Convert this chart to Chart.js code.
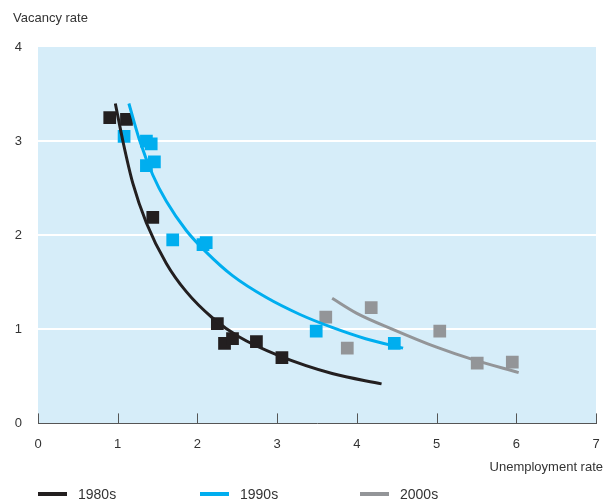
<!DOCTYPE html>
<html>
<head>
<meta charset="utf-8">
<script src="https://cdn.jsdelivr.net/npm/chart.js@4.4.1/dist/chart.umd.min.js"></script>
<style>
  html, body { margin: 0; padding: 0; background: #fff; }
  #wrap { width: 605px; height: 502px; position: relative; }
</style>
</head>
<body>
<div id="wrap"><canvas id="curveChart"></canvas></div>
<script>
// observed points, unemployment rate (x) vs vacancy rate (y)
const x1980s = [0.9, 1.11, 1.44, 2.25, 2.34, 2.44, 2.74, 3.06];
const y1980s = [3.25, 3.23, 2.19, 1.06, 0.85, 0.90, 0.87, 0.70];
const x1990s = [1.08, 1.36, 1.42, 1.36, 1.46, 1.69, 2.07, 2.11, 3.49, 4.47];
const y1990s = [3.05, 3.0, 2.97, 2.74, 2.78, 1.95, 1.90, 1.92, 0.98, 0.85];
const x2000s = [3.61, 3.88, 4.18, 5.04, 5.51, 5.95];
const y2000s = [1.13, 0.80, 1.23, 0.98, 0.64, 0.65];

// fitted curves
const fitX1980s = [0.97, 1.07, 1.19, 1.36, 1.61, 1.86, 2.19, 2.52, 3.02, 3.69, 4.31];
const fitY1980s = [3.4, 2.98, 2.55, 2.13, 1.70, 1.40, 1.12, 0.92, 0.72, 0.53, 0.42];
const fitX1990s = [1.14, 1.27, 1.44, 1.61, 1.86, 2.11, 2.44, 2.86, 3.28, 3.69, 4.11, 4.58];
const fitY1990s = [3.4, 3.02, 2.64, 2.36, 2.05, 1.82, 1.57, 1.34, 1.16, 1.02, 0.90, 0.80];
const fitX2000s = [3.69, 4.0, 4.45, 5.0, 5.45, 6.03];
const fitY2000s = [1.33, 1.17, 1.0, 0.81, 0.68, 0.54];

const xTicks = [0, 1, 2, 3, 4, 5, 6, 7];
const yTicks = [0, 1, 2, 3, 4];

const seriesNames = ['1980s', '1990s', '2000s'];
const lineColors = ['#231f20', '#00aeef', '#939598'];
const pointColors = ['#231f20', '#00aeef', '#939598'];

const FONT = "'Liberation Sans', Arial, sans-serif";
const TEXT = '#333333';

function pairs(xs, ys) {
  return xs.map((x, i) => ({ x: x, y: ys[i] }));
}

function curve(xs, ys, i) {
  return {
    label: seriesNames[i],
    data: pairs(xs, ys),
    showLine: true,
    borderColor: lineColors[i],
    borderWidth: 3,
    pointRadius: 0,
    cubicInterpolationMode: 'monotone',
    order: 1
  };
}

function dots(xs, ys, i) {
  return {
    label: seriesNames[i] + ' points',
    data: pairs(xs, ys),
    showLine: false,
    pointStyle: 'rect',
    pointRadius: 9,
    pointBorderWidth: 0,
    backgroundColor: pointColors[i],
    borderColor: pointColors[i],
    order: 2
  };
}

// light blue panel behind the plot, short upward ticks, titles and legend
const decor = {
  id: 'decor',
  beforeDraw(chart) {
    const { ctx, chartArea: a } = chart;
    ctx.save();
    ctx.fillStyle = '#d6edf9';
    ctx.fillRect(a.left, a.top, a.right - a.left, a.bottom - a.top);
    ctx.restore();
  },
  afterDraw(chart) {
    const { ctx, chartArea: a, scales } = chart;
    ctx.save();
    ctx.strokeStyle = '#555555';
    ctx.lineWidth = 1;
    xTicks.forEach(v => {
      const px = Math.round(scales.x.getPixelForValue(v)) + 0.5;
      ctx.beginPath();
      ctx.moveTo(px, a.bottom);
      ctx.lineTo(px, a.bottom - 10);
      ctx.stroke();
    });

    ctx.fillStyle = TEXT;
    ctx.font = '13px ' + FONT;
    ctx.textBaseline = 'middle';
    ctx.textAlign = 'left';
    ctx.fillText('Vacancy rate', 13, 18);
    ctx.textAlign = 'right';
    ctx.fillText('Unemployment rate', 603, 467);

    const legendX = [38, 200, 360];
    ctx.textAlign = 'left';
    seriesNames.forEach((name, i) => {
      ctx.strokeStyle = lineColors[i];
      ctx.lineWidth = 4;
      ctx.beginPath();
      ctx.moveTo(legendX[i], 494);
      ctx.lineTo(legendX[i] + 29, 494);
      ctx.stroke();
      ctx.fillStyle = TEXT;
      ctx.font = '14px ' + FONT;
      ctx.fillText(name, legendX[i] + 40, 495);
    });
    ctx.restore();
  }
};

new Chart(document.getElementById('curveChart'), {
  type: 'scatter',
  data: {
    datasets: [
      curve(fitX1980s, fitY1980s, 0),
      curve(fitX1990s, fitY1990s, 1),
      curve(fitX2000s, fitY2000s, 2),
      dots(x1980s, y1980s, 0),
      dots(x1990s, y1990s, 1),
      dots(x2000s, y2000s, 2)
    ]
  },
  options: {
    responsive: true,
    maintainAspectRatio: false,
    animation: false,
    layout: { padding: { top: 47, right: 3, bottom: 37, left: 0 } },
    plugins: {
      legend: { display: false },
      tooltip: { enabled: false }
    },
    scales: {
      x: {
        type: 'linear',
        min: 0,
        max: 7,
        afterBuildTicks(scale) { scale.ticks = xTicks.map(v => ({ value: v })); },
        afterFit(scale) { scale.paddingRight = 0; scale.paddingLeft = 0; },
        grid: { display: false, drawTicks: false },
        border: { display: true, color: '#555555', width: 1 },
        ticks: { color: TEXT, font: { family: FONT, size: 13 }, padding: 13 }
      },
      y: {
        type: 'linear',
        min: 0,
        max: 4,
        afterBuildTicks(scale) { scale.ticks = yTicks.map(v => ({ value: v })); },
        afterFit(scale) { scale.width = 38; },
        grid: {
          drawTicks: false,
          lineWidth: 2,
          color: c => (c.tick && c.tick.value > 0 && c.tick.value < 4) ? '#ffffff' : 'rgba(0,0,0,0)'
        },
        border: { display: false },
        ticks: { color: TEXT, font: { family: FONT, size: 13 }, padding: 16 }
      }
    }
  },
  plugins: [decor]
});
</script>
</body>
</html>
